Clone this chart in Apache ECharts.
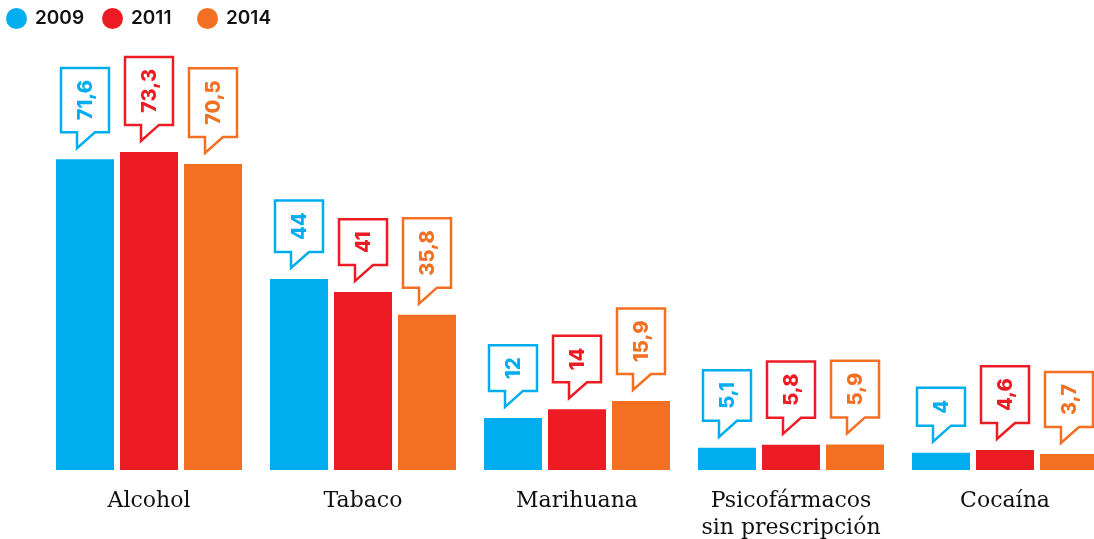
<!DOCTYPE html>
<html><head><meta charset="utf-8">
<script src="https://cdn.jsdelivr.net/npm/echarts@6/dist/echarts.min.js"></script>
<style>html,body{margin:0;padding:0;background:#fff;overflow:hidden}#c{width:1094px;height:539px}</style>
</head><body><div id="c"></div>
<script>
const categories = ['Alcohol', 'Tabaco', 'Marihuana', 'Psicofármacos\nsin prescripción', 'Cocaína'];
const years = ['2009', '2011', '2014'];
const values2009 = [71.6, 44, 12, 5.1, 4];
const values2011 = [73.3, 41, 14, 5.8, 4.6];
const values2014 = [70.5, 35.8, 15.9, 5.9, 3.7];

const colors = ['#00AEEF', '#ED1C24', '#F36F21'];
const seriesValues = [values2009, values2011, values2014];
const BAR_W = 58, BAR_STEP = 64;
const LABEL_FONT = '800 20px Inter';
const ctx = document.createElement('canvas').getContext('2d');
function fmt(v) { return String(v).replace('.', ','); }
function textW(t) { ctx.font = LABEL_FONT; return ctx.measureText(t).width; }

function calloutRenderer(si) {
  return function (params, api) {
    const ci = api.value(0), v = api.value(1);
    const p = api.coord([ci, v]);
    const cx = p[0] + (si - 1) * BAR_STEP;
    const txt = fmt(v);
    const tw = textW(txt);
    const tipY = p[1] - 11;
    const bb = tipY - 16;
    const h = tw + 24;
    const top = bb - h;
    const L = cx - 24, R = cx + 24, pl = cx - 8, pr = cx + 10;
    const pts = [[pl, bb], [L, bb], [L, top], [R, top], [R, bb], [pr, bb], [pl, tipY]];
    return {
      type: 'group', children: [
        { type: 'polygon', shape: { points: pts }, style: { fill: '#fff', stroke: colors[si], lineWidth: 2.5 } },
        { type: 'text', x: cx + 1, y: (top + bb) / 2, rotation: Math.PI / 2,
          style: { text: txt, font: LABEL_FONT, fill: colors[si], align: 'center', verticalAlign: 'middle' } }
      ]
    };
  };
}

const chart = echarts.init(document.getElementById('c'), null, { renderer: 'canvas' });
const series = [];
years.forEach((y, i) => {
  series.push({
    name: y, type: 'bar', data: seriesValues[i], barWidth: BAR_W, barGap: '10.345%',
    itemStyle: { color: colors[i] }, silent: true
  });
});
years.forEach((y, i) => {
  series.push({
    name: y + ' etiqueta', type: 'custom', clip: false, z: 5, silent: true,
    data: seriesValues[i].map((v, k) => [k, v]),
    encode: { x: 0, y: 1 },
    renderItem: calloutRenderer(i)
  });
});

chart.setOption({
  animation: false,
  backgroundColor: '#fff',
  legend: years.map((y, i) => ({
    data: [y], left: [6, 102, 197][i], top: 8, padding: 0, icon: 'circle', itemWidth: 21, itemHeight: 21,
    selectedMode: false,
    textStyle: { fontFamily: 'Inter', fontSize: 19, fontWeight: 600, color: '#111', padding: [0, 0, 0, 3] }
  })),
  grid: { left: 42, width: 1070, top: 36, bottom: 69, containLabel: false, outerBoundsMode: 'none' },
  xAxis: {
    type: 'category', data: categories,
    axisLine: { show: false }, axisTick: { show: false },
    axisLabel: { interval: 0, margin: 18, fontFamily: 'DejaVu Serif', fontSize: 22, lineHeight: 27, color: '#111' }
  },
  yAxis: { type: 'value', min: 0, max: 100, show: false, splitLine: { show: false } },
  series: series
});
</script>
</body></html>
